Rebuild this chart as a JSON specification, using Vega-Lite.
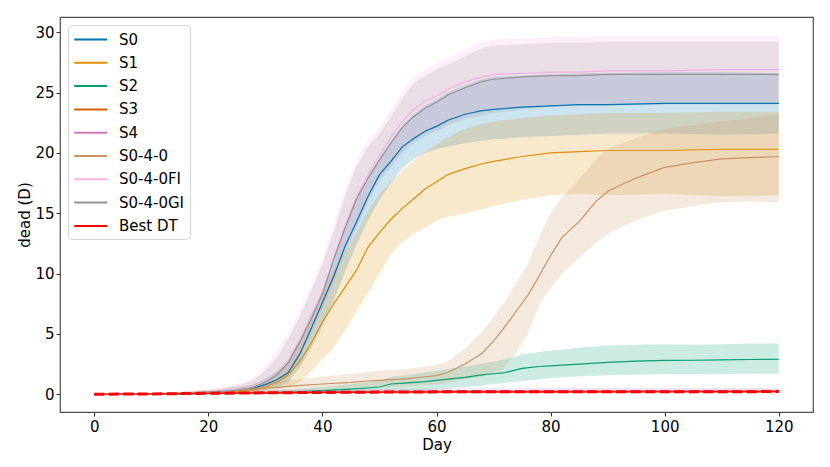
{
  "$schema": "https://vega.github.io/schema/vega-lite/v6.json",
  "width": 753,
  "height": 395,
  "autosize": {"type": "none"},
  "padding": {"left": 60, "top": 17, "right": 17, "bottom": 55},
  "config": {
    "font": "DejaVu Sans",
    "view": {"stroke": "#4d4d4d", "strokeWidth": 1.2},
    "legend": {
      "orient": "top-left",
      "offset": 8,
      "symbolType": "M-1,0H3",
      "symbolSize": 272,
      "symbolStrokeWidth": 2,
      "symbolOpacity": 1,
      "labelFontSize": 15,
      "labelColor": "#000000",
      "labelOffset": 27,
      "rowPadding": 5.3,
      "padding": 5,
      "strokeColor": "#d6d6d6",
      "fillColor": "#ffffff",
      "cornerRadius": 4
    }
  },
  "data": {
    "values": [
      {"s":"S0","d":0,"m":0,"lo":0,"hi":0},
      {"s":"S0","d":5,"m":0,"lo":0,"hi":0.01},
      {"s":"S0","d":10,"m":0.02,"lo":0,"hi":0.05},
      {"s":"S0","d":15,"m":0.06,"lo":0.02,"hi":0.12},
      {"s":"S0","d":20,"m":0.15,"lo":0.06,"hi":0.25},
      {"s":"S0","d":23,"m":0.22,"lo":0.1,"hi":0.35},
      {"s":"S0","d":25,"m":0.3,"lo":0.15,"hi":0.5},
      {"s":"S0","d":27,"m":0.42,"lo":0.2,"hi":0.7},
      {"s":"S0","d":28,"m":0.5,"lo":0.25,"hi":0.85},
      {"s":"S0","d":30,"m":0.8,"lo":0.35,"hi":1.3},
      {"s":"S0","d":32,"m":1.2,"lo":0.6,"hi":1.9},
      {"s":"S0","d":34,"m":1.8,"lo":1.0,"hi":2.8},
      {"s":"S0","d":36,"m":3.3,"lo":2.2,"hi":4.5},
      {"s":"S0","d":38,"m":5.4,"lo":3.8,"hi":6.6},
      {"s":"S0","d":40,"m":7.6,"lo":5.6,"hi":8.5},
      {"s":"S0","d":42,"m":9.8,"lo":7.8,"hi":11.4},
      {"s":"S0","d":44,"m":12.3,"lo":10.2,"hi":14.0},
      {"s":"S0","d":46,"m":14.3,"lo":12.4,"hi":16.4},
      {"s":"S0","d":48,"m":16.4,"lo":14.4,"hi":18.1},
      {"s":"S0","d":50,"m":18.2,"lo":16.1,"hi":19.6},
      {"s":"S0","d":52,"m":19.3,"lo":17.5,"hi":21.0},
      {"s":"S0","d":54,"m":20.5,"lo":18.7,"hi":22.3},
      {"s":"S0","d":56,"m":21.2,"lo":19.5,"hi":23.2},
      {"s":"S0","d":58,"m":21.8,"lo":20.0,"hi":23.9},
      {"s":"S0","d":60,"m":22.2,"lo":20.3,"hi":24.4},
      {"s":"S0","d":62,"m":22.7,"lo":20.5,"hi":25.0},
      {"s":"S0","d":65,"m":23.2,"lo":20.8,"hi":25.6},
      {"s":"S0","d":68,"m":23.5,"lo":21.0,"hi":26.1},
      {"s":"S0","d":70,"m":23.6,"lo":21.1,"hi":26.3},
      {"s":"S0","d":75,"m":23.8,"lo":21.3,"hi":26.4},
      {"s":"S0","d":80,"m":23.9,"lo":21.4,"hi":26.5},
      {"s":"S0","d":85,"m":24.0,"lo":21.5,"hi":26.6},
      {"s":"S0","d":90,"m":24.0,"lo":21.6,"hi":26.6},
      {"s":"S0","d":100,"m":24.1,"lo":21.6,"hi":26.7},
      {"s":"S0","d":110,"m":24.1,"lo":21.5,"hi":26.7},
      {"s":"S0","d":120,"m":24.1,"lo":21.6,"hi":26.6},

      {"s":"S1","d":0,"m":0,"lo":0,"hi":0},
      {"s":"S1","d":5,"m":0,"lo":0,"hi":0.01},
      {"s":"S1","d":10,"m":0.02,"lo":0,"hi":0.05},
      {"s":"S1","d":15,"m":0.05,"lo":0.01,"hi":0.1},
      {"s":"S1","d":20,"m":0.12,"lo":0.04,"hi":0.22},
      {"s":"S1","d":23,"m":0.17,"lo":0.06,"hi":0.3},
      {"s":"S1","d":25,"m":0.22,"lo":0.08,"hi":0.38},
      {"s":"S1","d":27,"m":0.3,"lo":0.1,"hi":0.5},
      {"s":"S1","d":28,"m":0.35,"lo":0.12,"hi":0.6},
      {"s":"S1","d":30,"m":0.6,"lo":0.2,"hi":1.1},
      {"s":"S1","d":32,"m":1.0,"lo":0.35,"hi":1.8},
      {"s":"S1","d":34,"m":1.6,"lo":0.6,"hi":2.9},
      {"s":"S1","d":36,"m":2.7,"lo":1.0,"hi":4.6},
      {"s":"S1","d":38,"m":4.2,"lo":1.9,"hi":6.5},
      {"s":"S1","d":40,"m":6.0,"lo":2.9,"hi":8.5},
      {"s":"S1","d":42,"m":7.5,"lo":3.9,"hi":10.3},
      {"s":"S1","d":44,"m":8.9,"lo":5.3,"hi":11.9},
      {"s":"S1","d":46,"m":10.3,"lo":6.9,"hi":13.4},
      {"s":"S1","d":48,"m":12.2,"lo":8.4,"hi":15.2},
      {"s":"S1","d":50,"m":13.4,"lo":10.0,"hi":16.6},
      {"s":"S1","d":52,"m":14.5,"lo":11.6,"hi":17.6},
      {"s":"S1","d":54,"m":15.4,"lo":12.6,"hi":18.5},
      {"s":"S1","d":56,"m":16.2,"lo":13.3,"hi":19.4},
      {"s":"S1","d":58,"m":17.0,"lo":13.8,"hi":20.1},
      {"s":"S1","d":60,"m":17.6,"lo":14.4,"hi":20.7},
      {"s":"S1","d":62,"m":18.2,"lo":14.7,"hi":21.3},
      {"s":"S1","d":65,"m":18.7,"lo":15.0,"hi":22.0},
      {"s":"S1","d":68,"m":19.1,"lo":15.3,"hi":22.4},
      {"s":"S1","d":70,"m":19.3,"lo":15.6,"hi":22.6},
      {"s":"S1","d":75,"m":19.7,"lo":16.1,"hi":22.9},
      {"s":"S1","d":80,"m":20.0,"lo":16.5,"hi":23.1},
      {"s":"S1","d":85,"m":20.1,"lo":16.6,"hi":23.2},
      {"s":"S1","d":90,"m":20.2,"lo":16.5,"hi":23.3},
      {"s":"S1","d":100,"m":20.2,"lo":16.6,"hi":23.3},
      {"s":"S1","d":110,"m":20.3,"lo":16.4,"hi":23.4},
      {"s":"S1","d":120,"m":20.3,"lo":16.5,"hi":23.4},

      {"s":"S2","d":0,"m":0,"lo":0,"hi":0},
      {"s":"S2","d":10,"m":0.01,"lo":0,"hi":0.03},
      {"s":"S2","d":20,"m":0.05,"lo":0.01,"hi":0.12},
      {"s":"S2","d":25,"m":0.08,"lo":0.02,"hi":0.18},
      {"s":"S2","d":30,"m":0.12,"lo":0.03,"hi":0.28},
      {"s":"S2","d":35,"m":0.2,"lo":0.05,"hi":0.42},
      {"s":"S2","d":40,"m":0.3,"lo":0.08,"hi":0.6},
      {"s":"S2","d":45,"m":0.42,"lo":0.12,"hi":0.85},
      {"s":"S2","d":48,"m":0.52,"lo":0.15,"hi":1.0},
      {"s":"S2","d":50,"m":0.6,"lo":0.2,"hi":1.15},
      {"s":"S2","d":52,"m":0.85,"lo":0.25,"hi":1.45},
      {"s":"S2","d":55,"m":0.95,"lo":0.3,"hi":1.6},
      {"s":"S2","d":58,"m":1.05,"lo":0.35,"hi":1.8},
      {"s":"S2","d":60,"m":1.15,"lo":0.4,"hi":1.95},
      {"s":"S2","d":62,"m":1.25,"lo":0.48,"hi":2.1},
      {"s":"S2","d":65,"m":1.4,"lo":0.6,"hi":2.3},
      {"s":"S2","d":68,"m":1.6,"lo":0.75,"hi":2.55},
      {"s":"S2","d":70,"m":1.7,"lo":0.85,"hi":2.7},
      {"s":"S2","d":72,"m":1.8,"lo":0.95,"hi":2.9},
      {"s":"S2","d":75,"m":2.15,"lo":1.1,"hi":3.3},
      {"s":"S2","d":78,"m":2.3,"lo":1.25,"hi":3.5},
      {"s":"S2","d":80,"m":2.35,"lo":1.35,"hi":3.6},
      {"s":"S2","d":85,"m":2.5,"lo":1.5,"hi":3.85},
      {"s":"S2","d":90,"m":2.65,"lo":1.58,"hi":4.05},
      {"s":"S2","d":95,"m":2.75,"lo":1.62,"hi":4.1},
      {"s":"S2","d":100,"m":2.8,"lo":1.65,"hi":4.15},
      {"s":"S2","d":105,"m":2.82,"lo":1.66,"hi":4.1},
      {"s":"S2","d":110,"m":2.85,"lo":1.68,"hi":4.15},
      {"s":"S2","d":115,"m":2.88,"lo":1.7,"hi":4.2},
      {"s":"S2","d":120,"m":2.9,"lo":1.7,"hi":4.2},

      {"s":"S3","d":0,"m":0,"lo":0,"hi":0},
      {"s":"S3","d":10,"m":0.02,"lo":0,"hi":0.06},
      {"s":"S3","d":20,"m":0.07,"lo":0.01,"hi":0.17},
      {"s":"S3","d":30,"m":0.12,"lo":0.03,"hi":0.25},
      {"s":"S3","d":40,"m":0.16,"lo":0.05,"hi":0.3},
      {"s":"S3","d":50,"m":0.18,"lo":0.06,"hi":0.33},
      {"s":"S3","d":60,"m":0.2,"lo":0.07,"hi":0.35},
      {"s":"S3","d":80,"m":0.22,"lo":0.08,"hi":0.37},
      {"s":"S3","d":100,"m":0.23,"lo":0.08,"hi":0.38},
      {"s":"S3","d":120,"m":0.24,"lo":0.09,"hi":0.39},

      {"s":"S4","d":0,"m":0,"lo":0,"hi":0},
      {"s":"S4","d":10,"m":0.03,"lo":0,"hi":0.08},
      {"s":"S4","d":20,"m":0.1,"lo":0.02,"hi":0.22},
      {"s":"S4","d":30,"m":0.15,"lo":0.04,"hi":0.32},
      {"s":"S4","d":40,"m":0.2,"lo":0.06,"hi":0.4},
      {"s":"S4","d":50,"m":0.23,"lo":0.07,"hi":0.45},
      {"s":"S4","d":60,"m":0.25,"lo":0.08,"hi":0.47},
      {"s":"S4","d":80,"m":0.27,"lo":0.08,"hi":0.49},
      {"s":"S4","d":100,"m":0.28,"lo":0.09,"hi":0.5},
      {"s":"S4","d":120,"m":0.28,"lo":0.09,"hi":0.5},

      {"s":"S0-4-0","d":0,"m":0,"lo":0,"hi":0},
      {"s":"S0-4-0","d":5,"m":0,"lo":0,"hi":0.01},
      {"s":"S0-4-0","d":10,"m":0.03,"lo":0,"hi":0.08},
      {"s":"S0-4-0","d":15,"m":0.1,"lo":0.02,"hi":0.2},
      {"s":"S0-4-0","d":20,"m":0.2,"lo":0.06,"hi":0.38},
      {"s":"S0-4-0","d":25,"m":0.32,"lo":0.1,"hi":0.6},
      {"s":"S0-4-0","d":30,"m":0.5,"lo":0.18,"hi":0.9},
      {"s":"S0-4-0","d":35,"m":0.7,"lo":0.28,"hi":1.2},
      {"s":"S0-4-0","d":40,"m":0.85,"lo":0.38,"hi":1.45},
      {"s":"S0-4-0","d":45,"m":0.98,"lo":0.45,"hi":1.7},
      {"s":"S0-4-0","d":48,"m":1.1,"lo":0.5,"hi":1.85},
      {"s":"S0-4-0","d":50,"m":1.15,"lo":0.55,"hi":1.95},
      {"s":"S0-4-0","d":55,"m":1.3,"lo":0.65,"hi":2.1},
      {"s":"S0-4-0","d":58,"m":1.45,"lo":0.75,"hi":2.3},
      {"s":"S0-4-0","d":60,"m":1.55,"lo":0.8,"hi":2.45},
      {"s":"S0-4-0","d":62,"m":1.8,"lo":0.95,"hi":2.7},
      {"s":"S0-4-0","d":65,"m":2.5,"lo":1.25,"hi":3.8},
      {"s":"S0-4-0","d":68,"m":3.4,"lo":1.5,"hi":5.2},
      {"s":"S0-4-0","d":70,"m":4.4,"lo":1.8,"hi":6.4},
      {"s":"S0-4-0","d":72,"m":5.6,"lo":2.2,"hi":7.7},
      {"s":"S0-4-0","d":74,"m":6.9,"lo":3.5,"hi":9.2},
      {"s":"S0-4-0","d":76,"m":8.2,"lo":5.0,"hi":10.8},
      {"s":"S0-4-0","d":78,"m":9.8,"lo":7.4,"hi":13.0},
      {"s":"S0-4-0","d":80,"m":11.5,"lo":8.8,"hi":15.0},
      {"s":"S0-4-0","d":82,"m":13.0,"lo":10.0,"hi":16.3},
      {"s":"S0-4-0","d":85,"m":14.3,"lo":11.3,"hi":17.8},
      {"s":"S0-4-0","d":88,"m":16.0,"lo":12.6,"hi":19.5},
      {"s":"S0-4-0","d":90,"m":16.8,"lo":13.3,"hi":20.3},
      {"s":"S0-4-0","d":93,"m":17.5,"lo":14.0,"hi":20.9},
      {"s":"S0-4-0","d":96,"m":18.1,"lo":14.6,"hi":21.4},
      {"s":"S0-4-0","d":100,"m":18.8,"lo":15.2,"hi":22.0},
      {"s":"S0-4-0","d":105,"m":19.2,"lo":15.6,"hi":22.3},
      {"s":"S0-4-0","d":110,"m":19.5,"lo":15.9,"hi":22.6},
      {"s":"S0-4-0","d":115,"m":19.6,"lo":16.0,"hi":22.9},
      {"s":"S0-4-0","d":120,"m":19.7,"lo":15.9,"hi":23.2},

      {"s":"S0-4-0FI","d":0,"m":0,"lo":0,"hi":0},
      {"s":"S0-4-0FI","d":5,"m":0,"lo":0,"hi":0.01},
      {"s":"S0-4-0FI","d":10,"m":0.02,"lo":0,"hi":0.07},
      {"s":"S0-4-0FI","d":15,"m":0.07,"lo":0.02,"hi":0.18},
      {"s":"S0-4-0FI","d":20,"m":0.17,"lo":0.07,"hi":0.4},
      {"s":"S0-4-0FI","d":23,"m":0.26,"lo":0.1,"hi":0.6},
      {"s":"S0-4-0FI","d":25,"m":0.36,"lo":0.15,"hi":0.85},
      {"s":"S0-4-0FI","d":27,"m":0.52,"lo":0.2,"hi":1.2},
      {"s":"S0-4-0FI","d":28,"m":0.62,"lo":0.25,"hi":1.4},
      {"s":"S0-4-0FI","d":30,"m":1.0,"lo":0.45,"hi":2.4},
      {"s":"S0-4-0FI","d":32,"m":1.6,"lo":0.9,"hi":3.5},
      {"s":"S0-4-0FI","d":34,"m":2.7,"lo":1.5,"hi":5.1},
      {"s":"S0-4-0FI","d":36,"m":4.4,"lo":3.0,"hi":6.9},
      {"s":"S0-4-0FI","d":38,"m":6.3,"lo":5.1,"hi":9.0},
      {"s":"S0-4-0FI","d":40,"m":8.5,"lo":7.3,"hi":11.3},
      {"s":"S0-4-0FI","d":42,"m":11.3,"lo":9.5,"hi":14.0},
      {"s":"S0-4-0FI","d":44,"m":14.0,"lo":12.0,"hi":17.0},
      {"s":"S0-4-0FI","d":46,"m":16.4,"lo":14.0,"hi":19.4},
      {"s":"S0-4-0FI","d":48,"m":18.2,"lo":16.1,"hi":21.0},
      {"s":"S0-4-0FI","d":50,"m":19.8,"lo":17.9,"hi":22.1},
      {"s":"S0-4-0FI","d":52,"m":21.3,"lo":19.0,"hi":23.5},
      {"s":"S0-4-0FI","d":54,"m":22.6,"lo":20.2,"hi":25.0},
      {"s":"S0-4-0FI","d":56,"m":23.6,"lo":21.0,"hi":26.3},
      {"s":"S0-4-0FI","d":58,"m":24.3,"lo":21.6,"hi":26.9},
      {"s":"S0-4-0FI","d":60,"m":24.7,"lo":22.0,"hi":27.4},
      {"s":"S0-4-0FI","d":62,"m":25.3,"lo":22.5,"hi":27.8},
      {"s":"S0-4-0FI","d":65,"m":25.9,"lo":23.0,"hi":28.5},
      {"s":"S0-4-0FI","d":68,"m":26.3,"lo":23.3,"hi":29.2},
      {"s":"S0-4-0FI","d":70,"m":26.5,"lo":23.5,"hi":29.4},
      {"s":"S0-4-0FI","d":75,"m":26.6,"lo":23.8,"hi":29.5},
      {"s":"S0-4-0FI","d":80,"m":26.7,"lo":24.0,"hi":29.6},
      {"s":"S0-4-0FI","d":85,"m":26.7,"lo":24.1,"hi":29.6},
      {"s":"S0-4-0FI","d":90,"m":26.8,"lo":24.1,"hi":29.7},
      {"s":"S0-4-0FI","d":100,"m":26.8,"lo":24.2,"hi":29.7},
      {"s":"S0-4-0FI","d":110,"m":26.9,"lo":24.2,"hi":29.7},
      {"s":"S0-4-0FI","d":120,"m":26.9,"lo":24.2,"hi":29.7},

      {"s":"S0-4-0GI","d":0,"m":0,"lo":0,"hi":0},
      {"s":"S0-4-0GI","d":5,"m":0,"lo":0,"hi":0.01},
      {"s":"S0-4-0GI","d":10,"m":0.02,"lo":0,"hi":0.06},
      {"s":"S0-4-0GI","d":15,"m":0.07,"lo":0.02,"hi":0.15},
      {"s":"S0-4-0GI","d":20,"m":0.17,"lo":0.07,"hi":0.32},
      {"s":"S0-4-0GI","d":23,"m":0.25,"lo":0.1,"hi":0.5},
      {"s":"S0-4-0GI","d":25,"m":0.35,"lo":0.15,"hi":0.7},
      {"s":"S0-4-0GI","d":27,"m":0.5,"lo":0.2,"hi":1.0},
      {"s":"S0-4-0GI","d":28,"m":0.6,"lo":0.25,"hi":1.2},
      {"s":"S0-4-0GI","d":30,"m":1.0,"lo":0.4,"hi":2.0},
      {"s":"S0-4-0GI","d":32,"m":1.6,"lo":0.8,"hi":3.0},
      {"s":"S0-4-0GI","d":34,"m":2.6,"lo":1.3,"hi":4.6},
      {"s":"S0-4-0GI","d":36,"m":4.3,"lo":2.8,"hi":6.4},
      {"s":"S0-4-0GI","d":38,"m":6.2,"lo":4.9,"hi":8.5},
      {"s":"S0-4-0GI","d":40,"m":8.3,"lo":7.1,"hi":10.8},
      {"s":"S0-4-0GI","d":42,"m":11.2,"lo":9.3,"hi":13.5},
      {"s":"S0-4-0GI","d":44,"m":13.8,"lo":11.8,"hi":16.5},
      {"s":"S0-4-0GI","d":46,"m":16.2,"lo":13.8,"hi":18.9},
      {"s":"S0-4-0GI","d":48,"m":17.9,"lo":15.9,"hi":20.5},
      {"s":"S0-4-0GI","d":50,"m":19.4,"lo":17.7,"hi":21.6},
      {"s":"S0-4-0GI","d":52,"m":20.8,"lo":18.8,"hi":23.0},
      {"s":"S0-4-0GI","d":54,"m":22.1,"lo":20.0,"hi":24.5},
      {"s":"S0-4-0GI","d":56,"m":23.0,"lo":20.8,"hi":25.8},
      {"s":"S0-4-0GI","d":58,"m":23.7,"lo":21.4,"hi":26.4},
      {"s":"S0-4-0GI","d":60,"m":24.2,"lo":21.8,"hi":26.9},
      {"s":"S0-4-0GI","d":62,"m":24.8,"lo":22.3,"hi":27.3},
      {"s":"S0-4-0GI","d":65,"m":25.4,"lo":22.8,"hi":28.0},
      {"s":"S0-4-0GI","d":68,"m":25.9,"lo":23.1,"hi":28.7},
      {"s":"S0-4-0GI","d":70,"m":26.1,"lo":23.3,"hi":28.9},
      {"s":"S0-4-0GI","d":75,"m":26.3,"lo":23.6,"hi":29.0},
      {"s":"S0-4-0GI","d":80,"m":26.4,"lo":23.8,"hi":29.1},
      {"s":"S0-4-0GI","d":85,"m":26.4,"lo":23.9,"hi":29.1},
      {"s":"S0-4-0GI","d":90,"m":26.5,"lo":23.9,"hi":29.2},
      {"s":"S0-4-0GI","d":100,"m":26.5,"lo":24.0,"hi":29.2},
      {"s":"S0-4-0GI","d":110,"m":26.5,"lo":24.0,"hi":29.2},
      {"s":"S0-4-0GI","d":120,"m":26.5,"lo":24.0,"hi":29.2},

      {"s":"Best DT","d":0,"m":0,"lo":0,"hi":0},
      {"s":"Best DT","d":10,"m":0.03,"lo":0,"hi":0.08},
      {"s":"Best DT","d":20,"m":0.08,"lo":0.03,"hi":0.14},
      {"s":"Best DT","d":30,"m":0.12,"lo":0.06,"hi":0.19},
      {"s":"Best DT","d":40,"m":0.15,"lo":0.09,"hi":0.22},
      {"s":"Best DT","d":50,"m":0.18,"lo":0.11,"hi":0.25},
      {"s":"Best DT","d":60,"m":0.2,"lo":0.13,"hi":0.27},
      {"s":"Best DT","d":80,"m":0.2,"lo":0.13,"hi":0.28},
      {"s":"Best DT","d":100,"m":0.21,"lo":0.14,"hi":0.29},
      {"s":"Best DT","d":120,"m":0.22,"lo":0.15,"hi":0.3}
    ]
  },
  "encoding": {
    "x": {
      "field": "d",
      "type": "quantitative",
      "scale": {"domain": [-6, 126], "nice": false, "zero": false},
      "axis": {
        "values": [0, 20, 40, 60, 80, 100, 120],
        "title": "Day",
        "grid": false,
        "domain": false,
        "tickSize": 4,
        "tickColor": "#333333",
        "labelFontSize": 15,
        "labelColor": "#000000",
        "labelPadding": 3,
        "titleFontSize": 15,
        "titleFontWeight": "normal",
        "titleColor": "#000000",
        "titlePadding": 3
      }
    },
    "color": {
      "field": "s",
      "type": "nominal",
      "title": null,
      "scale": {
        "domain": ["S0", "S1", "S2", "S3", "S4", "S0-4-0", "S0-4-0FI", "S0-4-0GI", "Best DT"],
        "range": ["#0173b2", "#de8f05", "#029e73", "#d55e00", "#cc78bc", "#ca9161", "#fbafe4", "#949494", "#ff0000"]
      }
    }
  },
  "layer": [
    {
      "mark": {"type": "area", "opacity": 0.2},
      "encoding": {
        "y": {
          "field": "lo",
          "type": "quantitative",
          "title": "dead (D)",
          "scale": {"domain": [-1.47, 31.26], "nice": false, "zero": false},
          "axis": {
            "values": [0, 5, 10, 15, 20, 25, 30],
            "grid": false,
            "domain": false,
            "tickSize": 4,
            "tickColor": "#333333",
            "labelFontSize": 15,
            "labelColor": "#000000",
            "labelPadding": 2,
            "titleFontSize": 15,
            "titleFontWeight": "normal",
            "titleColor": "#000000",
            "titlePadding": 2
          }
        },
        "y2": {"field": "hi"}
      }
    },
    {
      "mark": {"type": "line", "strokeWidth": 1.2},
      "encoding": {
        "y": {"field": "m", "type": "quantitative", "title": "dead (D)"}
      }
    },
    {
      "transform": [{"filter": "datum.s === 'Best DT'"}],
      "mark": {"type": "line", "color": "#ff0000", "strokeWidth": 3, "strokeDash": [10, 4.5]},
      "encoding": {
        "y": {"field": "m", "type": "quantitative", "title": "dead (D)"},
        "color": {"value": "#ff0000"}
      }
    }
  ]
}
